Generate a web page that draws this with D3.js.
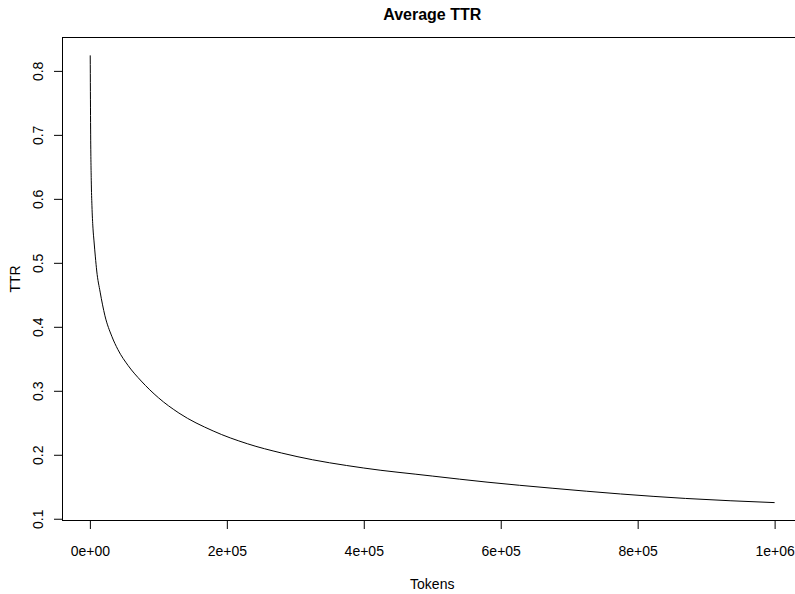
<!DOCTYPE html>
<html>
<head>
<meta charset="utf-8">
<script src="https://cdn.jsdelivr.net/npm/d3@7"></script>
<style>
  html, body { margin: 0; padding: 0; background: #fff; }
  svg { display: block; font-family: "Liberation Sans", Arial, Helvetica, sans-serif; }
</style>
</head>
<body>
<svg id="chart" width="795" height="594"></svg>
<script>
const tokens = [500, 1000, 2000, 3000, 4500, 6000, 8000, 10000, 15000, 22000, 32000, 41000, 56000, 75000, 100000, 130000, 180000, 230000, 280000, 325000, 375000, 425000, 475000, 500000, 580000, 675000, 775000, 870000, 1000000];
const ttr = [0.825, 0.72, 0.63, 0.59, 0.555, 0.535, 0.510, 0.488, 0.455, 0.418, 0.386, 0.365, 0.340, 0.316, 0.290, 0.266, 0.238, 0.218, 0.2035, 0.193, 0.184, 0.1765, 0.1705, 0.1675, 0.158, 0.1485, 0.1395, 0.1325, 0.126];
const xTicks = [0, 200000, 400000, 600000, 800000, 1000000];
const xTickLabels = ["0e+00", "2e+05", "4e+05", "6e+05", "8e+05", "1e+06"];
const yTicks = [0.1, 0.2, 0.3, 0.4, 0.5, 0.6, 0.7, 0.8];
const title = "Average TTR";
const xLabel = "Tokens";
const yLabel = "TTR";

(function () {
const svg = d3.select("#chart");
const mL = 62.5, mR = 802, mT = 37.5, mB = 520.5;

function padded(ext) { const r = ext[1] - ext[0]; return [ext[0] - 0.04 * r, ext[1] + 0.04 * r]; }
const x = d3.scaleLinear().domain(padded([0, 1000000])).range([mL, mR]);
const y = d3.scaleLinear().domain(padded(d3.extent(ttr))).range([mB, mT]);

// box
svg.append("rect").attr("x", mL).attr("y", mT).attr("width", mR - mL).attr("height", mB - mT)
  .attr("fill", "none").attr("stroke", "#000").attr("stroke-width", 1);

// x axis
const xAxis = svg.append("g").attr("transform", `translate(0,${mB})`)
  .call(d3.axisBottom(x).tickValues(xTicks).tickFormat((d, i) => xTickLabels[i]).tickSize(8.5).tickPadding(17));
xAxis.select(".domain").attr("d", `M${x(xTicks[0])},0H${x(xTicks[xTicks.length-1])}`);
xAxis.selectAll("text").attr("font-size", 14).attr("font-family", "Liberation Sans, Arial, sans-serif").attr("fill", "#000");

// y axis
const yAxis = svg.append("g").attr("transform", `translate(${mL},0)`)
  .call(d3.axisLeft(y).tickValues(yTicks).tickFormat(d3.format(".1f")).tickSize(8.5));
yAxis.select(".domain").attr("d", `M0,${y(yTicks[0])}V${y(yTicks[yTicks.length-1])}`);
yAxis.selectAll(".tick").attr("transform", null);
yAxis.selectAll(".tick line").attr("y1", d => y(d)).attr("y2", d => y(d));
yAxis.selectAll(".tick text")
  .attr("font-size", 14).attr("font-family", "Liberation Sans, Arial, sans-serif").attr("fill", "#000")
  .attr("x", null).attr("dy", null).attr("y", null)
  .attr("text-anchor", "middle")
  .attr("transform", d => `translate(-20,${y(d)}) rotate(-90)`);

// line
svg.append("path").datum(tokens.map((t, i) => [t, ttr[i]]))
  .attr("fill", "none").attr("stroke", "#000").attr("stroke-width", 1)
  .attr("d", d3.line().x(d => x(d[0])).y(d => y(d[1])).curve(d3.curveMonotoneX));

// title & labels
svg.append("text").attr("x", (mL + mR) / 2).attr("y", 20).attr("text-anchor", "middle")
  .attr("font-size", 16).attr("font-weight", "bold").text(title);
svg.append("text").attr("x", (mL + mR) / 2).attr("y", 589).attr("text-anchor", "middle")
  .attr("font-size", 14).text(xLabel);
svg.append("text").attr("transform", `translate(20,${(mT + mB) / 2}) rotate(-90)`).attr("text-anchor", "middle")
  .attr("font-size", 14).text(yLabel);
})();
</script>
</body>
</html>
